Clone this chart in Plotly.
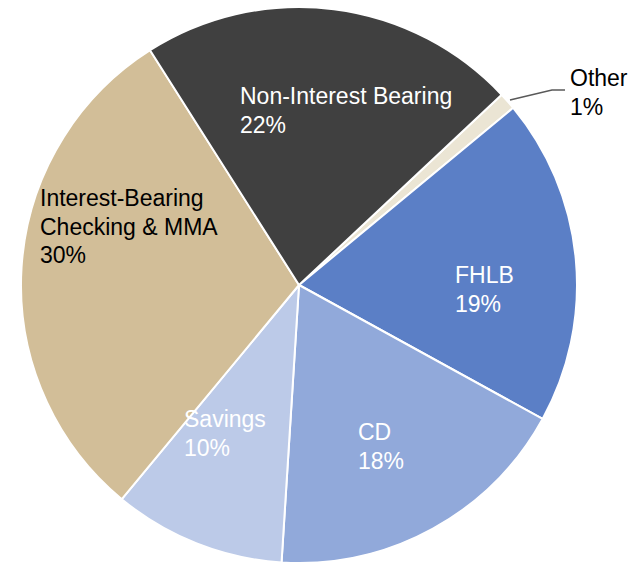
import plotly.graph_objects as go

# Deposit and funding mix, clockwise from the "Other" slice
labels = ["Other", "FHLB", "CD", "Savings",
          "Interest-Bearing Checking & MMA", "Non-Interest Bearing"]
shares = [1, 19, 18, 10, 30, 22]
colors = ["#ebe5d4", "#5b7fc6", "#91a9da", "#bccae8", "#d2be98", "#404040"]

W, H = 637, 568

# Label text lines (name lines, then the share) and their placement
label_lines = {
    "Other": ["Other"],
    "FHLB": ["FHLB"],
    "CD": ["CD"],
    "Savings": ["Savings"],
    "Interest-Bearing Checking & MMA": ["Interest-Bearing", "Checking & MMA"],
    "Non-Interest Bearing": ["Non-Interest Bearing"],
}
label_pos = {
    "Other": (568, 78, "#000000"),
    "FHLB": (453, 275, "#ffffff"),
    "CD": (356, 432, "#ffffff"),
    "Savings": (182, 419, "#ffffff"),
    "Interest-Bearing Checking & MMA": (38, 198, "#000000"),
    "Non-Interest Bearing": (238, 96, "#ffffff"),
}
LINE_GAP = 28.7
FONT = "Liberation Sans, Arial, sans-serif"

fig = go.Figure(go.Pie(
    labels=labels,
    values=shares,
    sort=False,
    direction="clockwise",
    rotation=46.8,
    marker=dict(colors=colors, line=dict(color="#ffffff", width=2)),
    textinfo="none",
    showlegend=False,
    domain=dict(x=[20 / W, 578 / W], y=[1 - 563 / H, 1 - 7 / H]),
))

annotations = []
for name, share in zip(labels, shares):
    px, py, color = label_pos[name]
    lines = label_lines[name] + [f"{share}%"]
    for i, line in enumerate(lines):
        annotations.append(dict(
            x=px / W, y=1 - (py + i * LINE_GAP) / H,
            xref="paper", yref="paper",
            xanchor="left", yanchor="middle",
            text=line, showarrow=False,
            font=dict(family=FONT, size=23, color=color),
        ))

# Leader line for the small "Other" slice
fig.add_shape(
    type="path",
    path=f"M {510 / W} {1 - 100 / H} L {552 / W} {1 - 90 / H} L {565 / W} {1 - 90 / H}",
    xref="paper", yref="paper",
    line=dict(color="#595959", width=1.5),
)

fig.update_layout(
    width=W, height=H,
    margin=dict(l=0, r=0, t=0, b=0),
    paper_bgcolor="#ffffff",
    plot_bgcolor="#ffffff",
    annotations=annotations,
)

fig.write_html("out.html")
